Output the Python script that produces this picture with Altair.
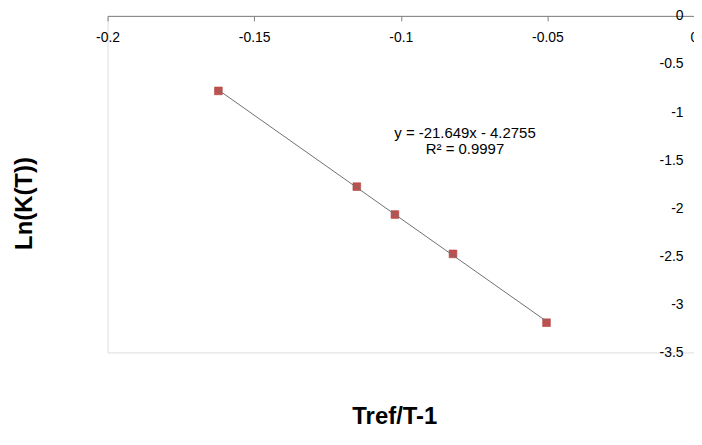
import altair as alt
import pandas as pd

# data
x_vals = [-0.1622, -0.1150, -0.1020, -0.0822, -0.0503]
y_vals = [-0.780, -1.776, -2.066, -2.475, -3.191]

x_ticks = [-0.2, -0.15, -0.1, -0.05, 0]
y_ticks = [0, -0.5, -1, -1.5, -2, -2.5, -3, -3.5]

eq_lines = ["y = -21.649x - 4.2755", "R\u00b2 = 0.9997"]
eq_x = [-0.0781, -0.0781]
eq_y = [-1.223, -1.387]

df = pd.DataFrame({"x": x_vals, "y": y_vals})
df_eq = pd.DataFrame({"x": eq_x, "y": eq_y, "t": eq_lines})

FONT = "Liberation Sans"
GRAY = "#808080"
W, H = 589, 338

xscale = alt.Scale(domain=[-0.2, 0], nice=False, zero=False)
yscale = alt.Scale(domain=[-3.5, 0], nice=False, zero=False)

xaxis = alt.Axis(
    orient="bottom", offset=-H, values=x_ticks, labelExpr="'' + datum.value",
    grid=False, domainColor=GRAY, tickColor=GRAY, tickSize=5,
    labelFont=FONT, labelFontSize=14, labelColor="black",
    labelPadding=17, labelBaseline="middle", labelFlush=False,
    title="Tref/T-1", titleFont=FONT, titleFontSize=24, titleFontWeight="bold",
    titleColor="black", titleX=288, titleY=402, titleBaseline="middle",
    titleAlign="center", titleAngle=0,
)
yaxis = alt.Axis(
    orient="right", values=y_ticks, labelExpr="'' + datum.value",
    grid=False, domainColor=GRAY, tickColor=GRAY, tickSize=4,
    labelFont=FONT, labelFontSize=14, labelColor="black",
    labelPadding=-15, labelAlign="right", labelBaseline="middle", labelFlush=False,
    title="Ln(K(T))", titleFont=FONT, titleFontSize=24, titleFontWeight="bold",
    titleColor="black", titleX=-672, titleY=188, titleBaseline="middle",
    titleAlign="center", titleAngle=270,
)

points = alt.Chart(df).mark_square(
    size=60, color="#C0504D", opacity=1, stroke="#B04440", strokeWidth=0.6
).encode(
    x=alt.X("x:Q", scale=xscale, axis=xaxis),
    y=alt.Y("y:Q", scale=yscale, axis=yaxis),
)

trend = alt.Chart(df).transform_regression("x", "y").mark_line(
    color="#707070", strokeWidth=1
).encode(
    x=alt.X("x:Q", scale=xscale),
    y=alt.Y("y:Q", scale=yscale),
)

eq = alt.Chart(df_eq).mark_text(
    font=FONT, fontSize=15, color="black", align="center", baseline="middle"
).encode(
    x=alt.X("x:Q", scale=xscale),
    y=alt.Y("y:Q", scale=yscale),
    text="t:N",
)

chart = alt.layer(points, trend, eq).properties(
    width=W, height=H,
    autosize=alt.AutoSizeParams(type="none"),
    padding={"left": 100, "top": 7, "right": 0, "bottom": 77},
).configure_view(stroke=GRAY, strokeWidth=1).configure(background="white")

chart.save("out.html", embed_options={"renderer": "svg", "actions": False})
